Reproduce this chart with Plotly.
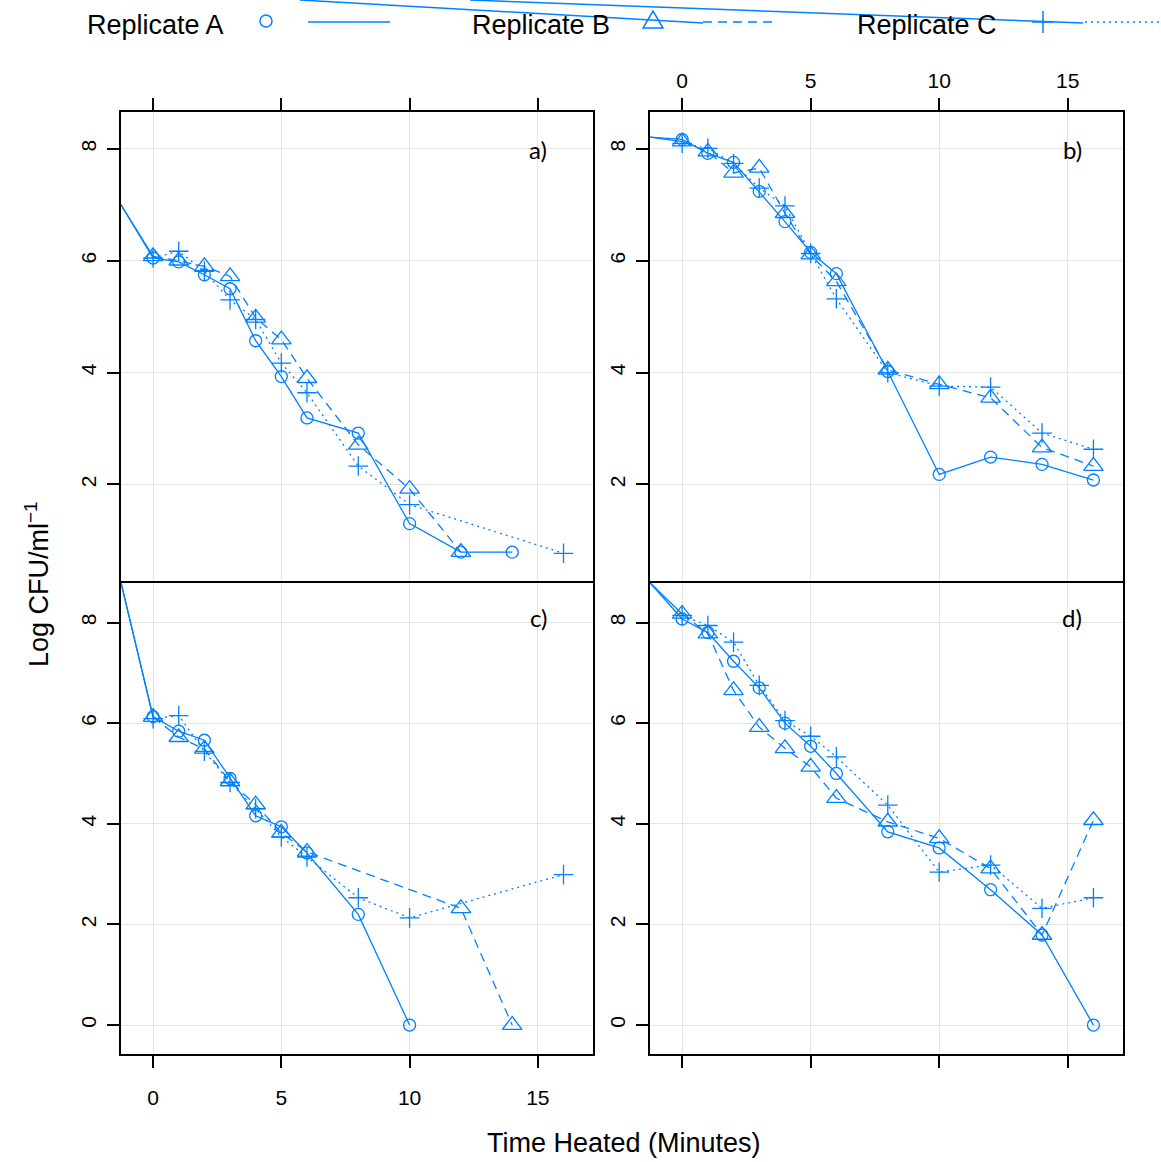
import plotly.graph_objects as go

W, H = 1161, 1162

# ---------------- data ----------------
time = [0, 1, 2, 3, 4, 5, 6, 8, 10, 12, 14, 16]

a_A = [6.05, 5.98, 5.75, 5.50, 4.57, 3.93, 3.19, 2.92, 1.30, 0.79, 0.79, None]
a_B = [6.08, 6.00, 5.90, 5.72, 4.98, 4.59, 3.90, 2.71, 1.92, 0.79, None, None]
a_C = [6.05, 6.17, 5.81, 5.30, 4.95, 4.17, 3.64, 2.33, 1.64, None, None, 0.77]

b_A = [8.17, 7.92, 7.76, 7.24, 6.70, 6.15, 5.77, 4.02, 2.18, 2.49, 2.36, 2.08]
b_B = [8.13, 7.95, 7.57, 7.66, 6.85, 6.11, 5.63, 4.05, 3.79, 3.55, 2.66, 2.33]
b_C = [8.10, 8.01, 7.74, 7.30, 6.98, 6.13, 5.32, 4.00, 3.76, 3.74, 2.92, 2.63]

c_A = [6.13, 5.84, 5.66, 4.90, 4.16, 3.94, 3.42, 2.20, 0.00, None, None, None]
c_B = [6.12, 5.72, 5.49, 4.84, 4.38, 3.82, 3.44, None, None, 2.32, 0.00, None]
c_C = [6.09, 6.15, 5.44, 4.82, 4.30, 3.74, 3.34, 2.53, 2.13, None, None, 2.99]

d_A = [8.07, 7.80, 7.23, 6.70, 6.00, 5.54, 5.00, 3.84, 3.52, 2.69, 1.79, 0.00]
d_B = [8.17, 7.78, 6.65, 5.92, 5.50, 5.13, 4.51, 4.04, 3.71, 3.11, 1.79, 4.07]
d_C = [8.14, 7.94, 7.61, 6.75, 6.05, 5.74, 5.33, 4.37, 3.04, 3.18, 2.32, 2.53]

# stray lead-in segments entering each panel from the left edge (value at left edge)
lead_x = -1.25
lead_y = {"a)": 7.0, "b)": 8.21, "c)": 8.79, "d)": 8.79}

panel_labels = ["a)", "b)", "c)", "d)"]
replicates = ["Replicate A", "Replicate B", "Replicate C"]
x_ticks = [0, 5, 10, 15]
y_ticks_top = [2, 4, 6, 8]
y_ticks_bottom = [0, 2, 4, 6, 8]

# ---------------- styling ----------------
BLUE = "#0080ff"
FONT = "Liberation Sans, Arial, sans-serif"
styles = {
    "Replicate A": dict(symbol="circle-open", size=12, dash="solid"),
    "Replicate B": dict(symbol="triangle-up-open", size=17, dash="9px,6px"),
    "Replicate C": dict(symbol="cross-thin-open", size=14, dash="2px,4px"),
}

panels = {
    "a)": dict(data=[a_A, a_B, a_C], ax=""),
    "b)": dict(data=[b_A, b_B, b_C], ax="2"),
    "c)": dict(data=[c_A, c_B, c_C], ax="3"),
    "d)": dict(data=[d_A, d_B, d_C], ax="4"),
}

fig = go.Figure()

for lab in panel_labels:
    p = panels[lab]
    ax = p["ax"]
    for series in p["data"][:2]:
        fig.add_trace(go.Scatter(
            x=[lead_x, time[0]], y=[lead_y[lab], series[0]], mode="lines",
            line=dict(color=BLUE, width=1.3), showlegend=False, hoverinfo="skip",
            xaxis="x" + ax, yaxis="y" + ax))
    for rep, series in zip(replicates, p["data"]):
        st = styles[rep]
        fig.add_trace(go.Scatter(
            x=time, y=series, mode="lines+markers", name=rep, connectgaps=True,
            line=dict(color=BLUE, width=1.3, dash=st["dash"]),
            marker=dict(symbol=st["symbol"], size=st["size"], color=BLUE,
                        line=dict(color=BLUE, width=1.3)),
            showlegend=False, cliponaxis=False,
            xaxis="x" + ax, yaxis="y" + ax))

xL = [121 / W, 593 / W]
xR = [650 / W, 1123 / W]
yT = [1 - 581.25 / H, 1 - 112 / H]
yB = [1 - 1054 / H, 1 - 582.75 / H]

common = dict(showline=True, linecolor="black", linewidth=1.5, mirror=True,
              ticks="outside", ticklen=12, tickwidth=1.5, tickcolor="black",
              showgrid=True, gridcolor="#e4e4e4", gridwidth=1, zeroline=False,
              tickfont=dict(family=FONT, size=21, color="black"))

xr = [-1.25, 17.15]
yr_top = [0.27, 8.66]
yr_bot = [-0.575, 8.79]

fig.update_layout(
    xaxis=dict(domain=xL, range=xr, side="top", showticklabels=False, tickvals=x_ticks, anchor="y", **common),
    yaxis=dict(domain=yT, range=yr_top, tickvals=y_ticks_top, tickangle=-90, anchor="x",
               ticklabelstandoff=3, **common),
    xaxis2=dict(domain=xR, range=xr, side="top", showticklabels=True, tickvals=x_ticks, anchor="y2",
                ticklabelstandoff=2, **common),
    yaxis2=dict(domain=yT, range=yr_top, tickvals=y_ticks_top, tickangle=-90, anchor="x2",
                ticklabelstandoff=3, **common),
    xaxis3=dict(domain=xL, range=xr, side="bottom", showticklabels=True, tickvals=x_ticks, anchor="y3",
                ticklabelstandoff=12, **common),
    yaxis3=dict(domain=yB, range=yr_bot, tickvals=y_ticks_bottom, tickangle=-90, anchor="x3",
                ticklabelstandoff=3, **common),
    xaxis4=dict(domain=xR, range=xr, side="bottom", showticklabels=False, tickvals=x_ticks, anchor="y4", **common),
    yaxis4=dict(domain=yB, range=yr_bot, tickvals=y_ticks_bottom, tickangle=-90, anchor="x4",
                ticklabelstandoff=3, **common),
    width=W, height=H, margin=dict(l=0, r=0, t=0, b=0),
    paper_bgcolor="white", plot_bgcolor="white", showlegend=False,
)


def px_x(v):
    return v / W


def px_y(v):
    return 1 - v / H


# panel labels
label_pos = {"a)": (538, 149), "b)": (1072, 149), "c)": (538, 617), "d)": (1072, 617)}
annotations = []
for lab in panel_labels:
    px, py = label_pos[lab]
    annotations.append(dict(x=px_x(px), y=px_y(py), xref="paper", yref="paper", text=lab,
                            showarrow=False, font=dict(family="Lato, sans-serif", size=24, color="black"),
                            xanchor="center", yanchor="middle"))

annotations.append(dict(x=px_x(624), y=px_y(1143), xref="paper", yref="paper",
                        text="Time Heated (Minutes)", showarrow=False,
                        font=dict(family=FONT, size=27, color="black"),
                        xanchor="center", yanchor="middle"))
annotations.append(dict(x=px_x(37), y=px_y(584), xref="paper", yref="paper",
                        text="Log CFU/ml<sup>\u22121</sup>", showarrow=False, textangle=-90,
                        font=dict(family=FONT, size=27, color="black"),
                        xanchor="center", yanchor="middle"))

# legend (manual key drawn with shapes)
shapes = []
legend_text_x = [155, 541, 927]
legend_line = [(308, 390), (703, 775), (1085, 1160)]
ly = 22
for rep, tx, (l0, l1) in zip(replicates, legend_text_x, legend_line):
    st = styles[rep]
    annotations.append(dict(x=px_x(tx), y=px_y(25), xref="paper", yref="paper", text=rep,
                            showarrow=False, font=dict(family=FONT, size=27, color="black"),
                            xanchor="center", yanchor="middle"))
    shapes.append(dict(type="line", xref="paper", yref="paper",
                       x0=px_x(l0), x1=px_x(l1), y0=px_y(ly), y1=px_y(ly),
                       line=dict(color=BLUE, width=1.5, dash=st["dash"])))

# key symbols
shapes.append(dict(type="circle", xref="paper", yref="paper",
                   x0=px_x(266 - 6), x1=px_x(266 + 6), y0=px_y(21 - 6), y1=px_y(21 + 6),
                   line=dict(color=BLUE, width=1.5)))
tri = "M{},{} L{},{} L{},{} Z".format(px_x(643), px_y(28), px_x(663), px_y(28), px_x(653), px_y(11))
shapes.append(dict(type="path", xref="paper", yref="paper", path=tri, line=dict(color=BLUE, width=1.5)))
plus = "M{},{} L{},{} M{},{} L{},{}".format(px_x(1032), px_y(22), px_x(1054), px_y(22),
                                            px_x(1043), px_y(11), px_x(1043), px_y(33))
shapes.append(dict(type="path", xref="paper", yref="paper", path=plus, line=dict(color=BLUE, width=1.5)))

# stray key lines crossing the top of the figure
stray = [((300, 0), (703, 23)), ((470, 0), (1083, 23))]
for (x0, y0), (x1, y1) in stray:
    shapes.append(dict(type="line", xref="paper", yref="paper",
                       x0=px_x(x0), y0=px_y(y0), x1=px_x(x1), y1=px_y(y1),
                       line=dict(color=BLUE, width=1.5)))

fig.update_layout(annotations=annotations, shapes=shapes)
fig.write_html("out.html")
